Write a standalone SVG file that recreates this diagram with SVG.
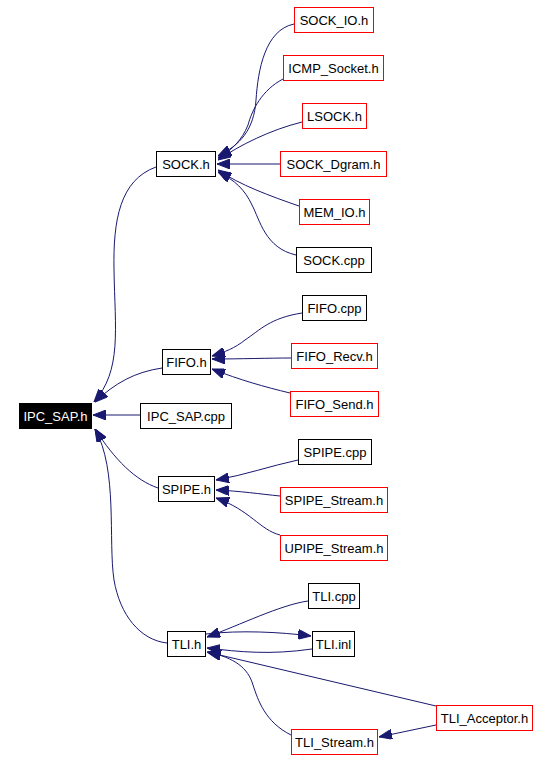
<svg xmlns="http://www.w3.org/2000/svg" width="550" height="760" viewBox="0 0 550 760">
<style>
.n rect{fill:#fff;stroke:#000;stroke-width:1}
.n.r rect{stroke:#f00}
.n text{font-family:"Liberation Sans",Arial,sans-serif;font-size:13px;fill:#000;text-anchor:middle}
.n.root rect{fill:#000}
.n.root text{fill:#fff}
.e path{fill:none;stroke:#191970;stroke-width:1}
</style>
<defs>
<marker id="ah" markerWidth="13" markerHeight="10" refX="13" refY="5" orient="auto" markerUnits="userSpaceOnUse">
<path d="M0,0 L13,5 L0,10 z" fill="#191970" stroke="#191970" stroke-width="1"/>
</marker>
</defs>
<rect width="550" height="760" fill="#fff"/>
<g id="edges" class="e">
<path marker-end="url(#ah)" d="M140,415 L93,415"/>
<path marker-end="url(#ah)" d="M156,167 C120,180 113,220 114,270 C115,330 122,370 94,402"/>
<path marker-end="url(#ah)" d="M162,368 C135,372 115,383 95,402"/>
<path marker-end="url(#ah)" d="M158,488 C135,480 115,460 95,429"/>
<path marker-end="url(#ah)" d="M167,643 C140,640 120,615 114,580 C108,540 118,470 95,429"/>
<path marker-end="url(#ah)" d="M294,24 C265,30 258,70 256,100 C254,130 240,145 218,156"/>
<path marker-end="url(#ah)" d="M283,79 C262,90 252,110 248,125 C242,140 232,150 218,158"/>
<path marker-end="url(#ah)" d="M302,122 C270,130 240,145 218,160"/>
<path marker-end="url(#ah)" d="M280,164 L217,164"/>
<path marker-end="url(#ah)" d="M299,206 C270,196 240,185 218,170"/>
<path marker-end="url(#ah)" d="M296,255 C265,248 260,220 252,205 C245,190 235,180 218,172"/>
<path marker-end="url(#ah)" d="M302,313 C270,318 260,330 245,340 C235,348 225,352 212,356"/>
<path marker-end="url(#ah)" d="M291,358 C270,358 240,359 212,359"/>
<path marker-end="url(#ah)" d="M290,393 C265,387 240,380 212,369"/>
<path marker-end="url(#ah)" d="M298,460 C270,466 245,475 216,480"/>
<path marker-end="url(#ah)" d="M280,496 C260,494 240,491 216,490"/>
<path marker-end="url(#ah)" d="M280,535 C260,530 250,510 216,498"/>
<path marker-end="url(#ah)" d="M308,601 C280,605 240,625 207,637"/>
<path marker-end="url(#ah)" d="M206,634 C240,630 280,632 311,636"/>
<path marker-end="url(#ah)" d="M312,649 C270,655 240,652 207,648"/>
<path marker-end="url(#ah)" d="M436,706 L207,652"/>
<path marker-end="url(#ah)" d="M291,735 C265,722 258,700 253,685 C248,668 235,658 208,652"/>
<path marker-end="url(#ah)" d="M436,725 L379,737"/>
</g>
<g id="IPC_SAP_h" class="n root"><rect x="19.5" y="403.5" width="72" height="25"/><text x="55.5" y="420.5">IPC_SAP.h</text></g>
<g id="IPC_SAP_cpp" class="n"><rect x="140.5" y="403.5" width="91" height="25"/><text x="186" y="420.5">IPC_SAP.cpp</text></g>
<g id="SOCK_h" class="n"><rect x="156.5" y="151.5" width="59" height="25"/><text x="186" y="168.5">SOCK.h</text></g>
<g id="SOCK_IO_h" class="n r"><rect x="294.5" y="7.5" width="79" height="25"/><text x="334" y="24.5">SOCK_IO.h</text></g>
<g id="ICMP_Socket_h" class="n r"><rect x="283.5" y="55.5" width="100" height="25"/><text x="333.5" y="72.5">ICMP_Socket.h</text></g>
<g id="LSOCK_h" class="n r"><rect x="302.5" y="103.5" width="64" height="25"/><text x="334.5" y="120.5">LSOCK.h</text></g>
<g id="SOCK_Dgram_h" class="n r"><rect x="280.5" y="151.5" width="106" height="25"/><text x="333.5" y="168.5">SOCK_Dgram.h</text></g>
<g id="MEM_IO_h" class="n r"><rect x="299.5" y="199.5" width="70" height="25"/><text x="334.5" y="216.5">MEM_IO.h</text></g>
<g id="SOCK_cpp" class="n"><rect x="296.5" y="247.5" width="75" height="25"/><text x="334" y="264.5">SOCK.cpp</text></g>
<g id="FIFO_h" class="n"><rect x="162.5" y="349.5" width="48" height="25"/><text x="186.5" y="366.5">FIFO.h</text></g>
<g id="FIFO_cpp" class="n"><rect x="302.5" y="295.5" width="64" height="25"/><text x="334.5" y="312.5">FIFO.cpp</text></g>
<g id="FIFO_Recv_h" class="n r"><rect x="291.5" y="343.5" width="86" height="25"/><text x="334.5" y="360.5">FIFO_Recv.h</text></g>
<g id="FIFO_Send_h" class="n r"><rect x="290.5" y="391.5" width="88" height="25"/><text x="334.5" y="408.5">FIFO_Send.h</text></g>
<g id="SPIPE_h" class="n"><rect x="158.5" y="476.5" width="56" height="25"/><text x="186.5" y="493.5">SPIPE.h</text></g>
<g id="SPIPE_cpp" class="n"><rect x="298.5" y="439.5" width="73" height="25"/><text x="335" y="456.5">SPIPE.cpp</text></g>
<g id="SPIPE_Stream_h" class="n r"><rect x="280.5" y="487.5" width="107" height="25"/><text x="334" y="504.5">SPIPE_Stream.h</text></g>
<g id="UPIPE_Stream_h" class="n r"><rect x="280.5" y="535.5" width="107" height="25"/><text x="334" y="552.5">UPIPE_Stream.h</text></g>
<g id="TLI_h" class="n"><rect x="167.5" y="631.5" width="38" height="25"/><text x="186.5" y="648.5">TLI.h</text></g>
<g id="TLI_cpp" class="n"><rect x="308.5" y="583.5" width="51" height="25"/><text x="334" y="600.5">TLI.cpp</text></g>
<g id="TLI_inl" class="n"><rect x="312.5" y="631.5" width="42" height="25"/><text x="333.5" y="648.5">TLI.inl</text></g>
<g id="TLI_Acceptor_h" class="n r"><rect x="436.5" y="705.5" width="96" height="25"/><text x="484.5" y="722.5">TLI_Acceptor.h</text></g>
<g id="TLI_Stream_h" class="n r"><rect x="291.5" y="729.5" width="86" height="25"/><text x="334.5" y="746.5">TLI_Stream.h</text></g>
</svg>
